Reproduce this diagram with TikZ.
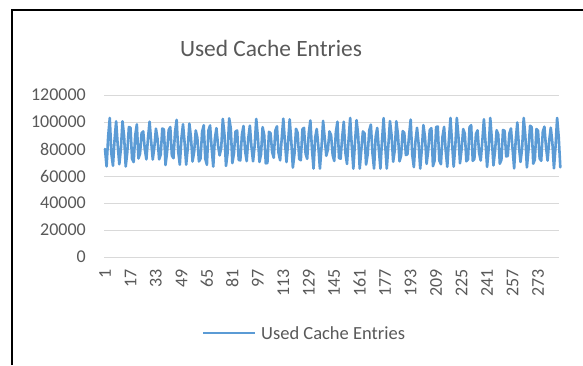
\documentclass[tikz,border=0pt]{standalone}
\usepackage{fontspec}
\setmainfont{Carlito}
\definecolor{axisgray}{HTML}{595959}
\definecolor{gridgray}{HTML}{D9D9D9}
\definecolor{serieblue}{HTML}{5B9BD5}
\begin{document}
\begin{tikzpicture}[x=1pt,y=-1pt,
  gridline/.style={draw=gridgray,line width=1pt},
  ylab/.style={anchor=east,text=axisgray,font=\fontsize{18}{20}\selectfont,inner sep=0pt},
  xlab/.style={anchor=east,rotate=90,text=axisgray,font=\fontsize{18}{20}\selectfont,inner sep=0pt},
  dataline/.style={draw=serieblue,line width=2.6pt,line join=round,line cap=round},
  frameline/.style={draw=black,line width=1.6pt}]
\useasboundingbox (0,0) rectangle (583,365);
\fill[white] (0,0) rectangle (583,365);
\draw[frameline] (12,365) -- (12,10) -- (583,10);
% title
\node[text=axisgray,font=\fontsize{23.4}{26}\selectfont] (title) at (271,48) {Used Cache Entries};
% grid and y labels
\foreach \v/\yy in {0/257,20000/230,40000/203,60000/176,80000/149,100000/122,120000/95}{
  \draw[gridline] (104,\yy) -- (559,\yy);
  \node[ylab] (y\v) at (86,\yy) {\v};
}
% x labels
\foreach \k in {0,...,17}{
  \pgfmathtruncatemacro{\lab}{1+16*\k}
  \node[xlab] (x\lab) at ({105+16*\k*1.592},269) {\lab};
}
% data (values in thousands)
\pgfmathsetseed{2024}
\draw[dataline] (105,149)
  \foreach \i in {2,...,287}{
    -- ({105+(\i-1)*1.592},{257-min(103,max(65.5,84+(10+11*rnd)*cos(mod(\i,21)*360/4.2+40)+4*(rnd-0.5)))/20*27})
  };
% legend
\coordinate (legA) at (203,333);
\node[anchor=west,text=axisgray,font=\fontsize{18.5}{20}\selectfont,inner sep=0pt] (legtext) at (261,333) {Used Cache Entries};
\draw[dataline,line cap=butt] (legA) -- ++(52,0);
\end{tikzpicture}
\end{document}
